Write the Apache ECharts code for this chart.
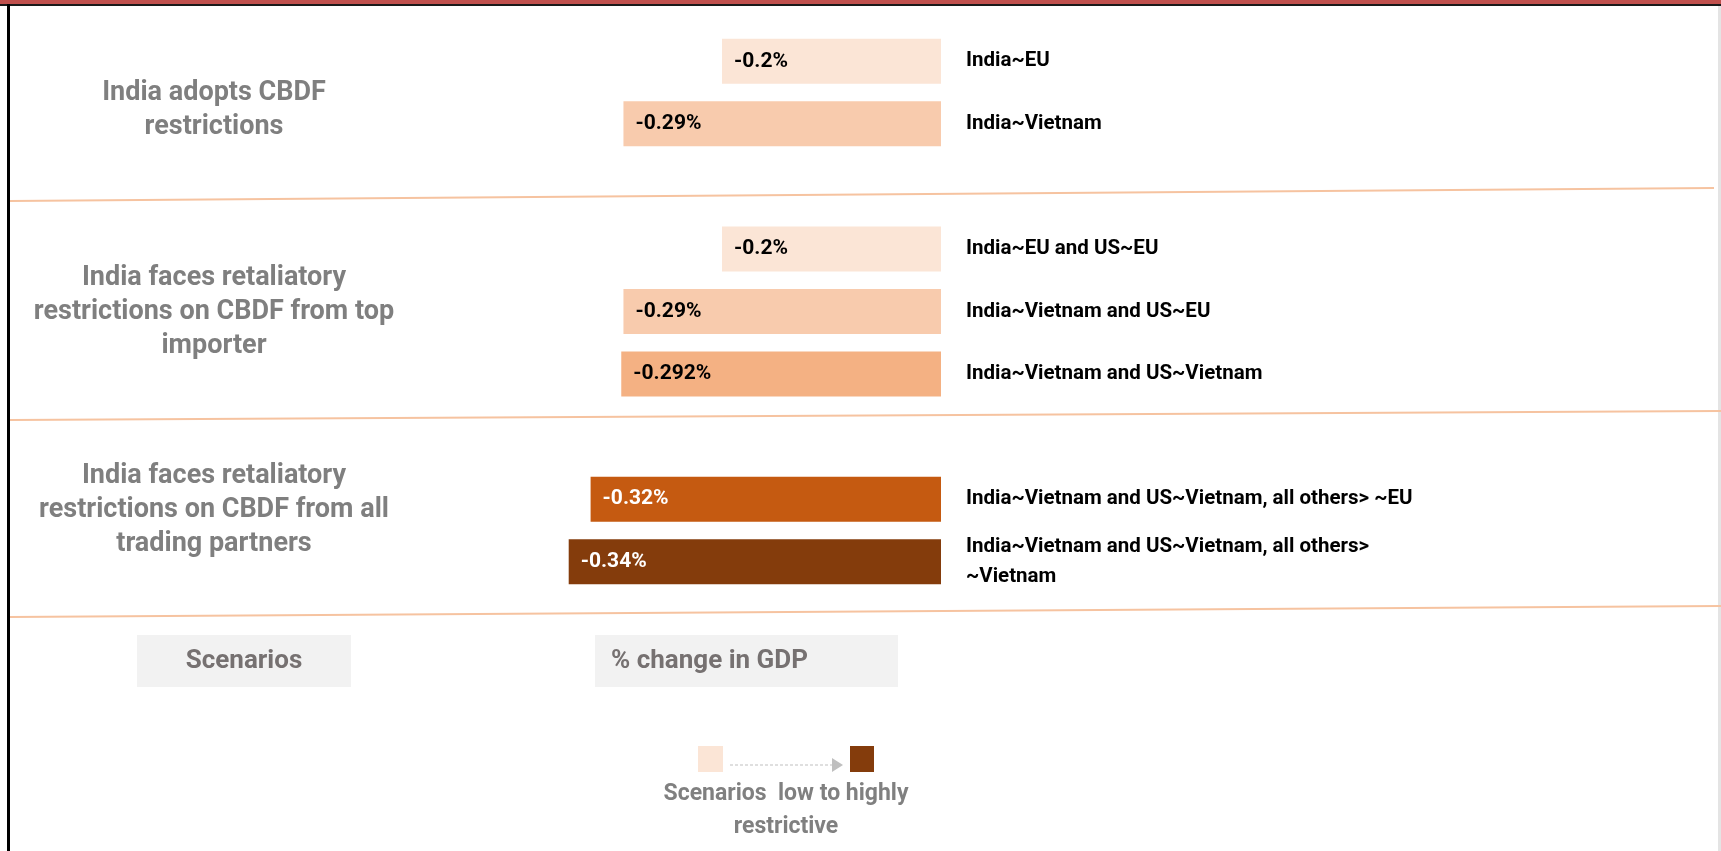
<!DOCTYPE html>
<html>
<head>
<meta charset="utf-8">
<title>CBDF restrictions - % change in GDP</title>
<script src="https://cdn.jsdelivr.net/npm/echarts@6/dist/echarts.min.js"></script>
<style>
  html, body { margin: 0; padding: 0; background: #fff; }
  #bar { width: 1721px; height: 851px; }
</style>
</head>
<body>
<div id="bar"></div>
<script>
// scenario labels shown right of each bar ('' = spacer row between groups)
var scenarios = [
  'India~EU',
  'India~Vietnam',
  '',
  'India~EU and US~EU',
  'India~Vietnam and US~EU',
  'India~Vietnam and US~Vietnam',
  '',
  'India~Vietnam and US~Vietnam, all others> ~EU',
  'India~Vietnam and US~Vietnam, all others>\n~Vietnam'
]
// % change in GDP
var gdpChange = [-0.2, -0.29, null, -0.2, -0.29, -0.292, null, -0.32, -0.34]
var shades = ['#fbe5d6', '#f8cbad', null, '#fbe5d6', '#f8cbad', '#f4b183', null, '#c55a11', '#843c0c']
var groupTitles = [
  'India adopts CBDF\nrestrictions',
  'India faces retaliatory\nrestrictions on CBDF from top\nimporter',
  'India faces retaliatory\nrestrictions on CBDF from all\ntrading partners'
]
var footerLabels = ['Scenarios', '% change in GDP']
var legendText = 'Scenarios  low to highly\nrestrictive'

var font = 'Roboto, "Liberation Sans", Arial, sans-serif'
var grey = '#7f7f7f'

function txt(text, x, y, size, color, align, lh) {
  return {
    type: 'text',
    style: {
      text: text, x: x, y: y,
      fill: color,
      fontSize: size, fontWeight: 'bold', fontFamily: font,
      align: align, textAlign: align,
      verticalAlign: 'middle', textVerticalAlign: 'middle',
      lineHeight: lh || size * 1.25
    }
  }
}

let myChart = echarts.init(document.getElementById('bar'))

let data = []
for (let i in gdpChange) {
  if (gdpChange[i] === null) {
    data.push(null)
    continue
  }
  let dark = i >= 7
  data.push({
    value: gdpChange[i],
    itemStyle: { color: shades[i] },
    label: { color: dark ? '#fff' : '#000' }
  })
}

let graphics = [
  // frame
  { type: 'rect', shape: { x: 0, y: 0, width: 1721, height: 4 }, style: { fill: '#c0504d' } },
  { type: 'rect', shape: { x: 0, y: 4, width: 1721, height: 2 }, style: { fill: '#1a1a1a' } },
  { type: 'rect', shape: { x: 7, y: 4, width: 3, height: 847 }, style: { fill: '#000' } },
  { type: 'rect', shape: { x: 1718, y: 6, width: 3, height: 845 }, style: { fill: '#e4e4e4' } },
  // separators between scenario groups
  { type: 'line', shape: { x1: 10, y1: 201, x2: 1714, y2: 188 }, style: { stroke: '#f6c3a0', lineWidth: 2 } },
  { type: 'line', shape: { x1: 10, y1: 420, x2: 1721, y2: 411 }, style: { stroke: '#f6c3a0', lineWidth: 2 } },
  { type: 'line', shape: { x1: 10, y1: 617, x2: 1721, y2: 606 }, style: { stroke: '#f6c3a0', lineWidth: 2 } },
  // footer boxes
  { type: 'rect', shape: { x: 137, y: 635, width: 214, height: 52 }, style: { fill: '#f2f2f2' } },
  { type: 'rect', shape: { x: 595, y: 635, width: 303, height: 52 }, style: { fill: '#f2f2f2' } },
  txt(footerLabels[0], 244, 661, 26, '#767171', 'center'),
  txt(footerLabels[1], 611, 661, 26, '#767171', 'left'),
  // legend: low -> high restrictive
  { type: 'rect', shape: { x: 698, y: 746, width: 25, height: 26 }, style: { fill: shades[0] } },
  { type: 'rect', shape: { x: 850, y: 746, width: 24, height: 26 }, style: { fill: shades[8] } },
  { type: 'line', shape: { x1: 730, y1: 765, x2: 834, y2: 765 }, style: { stroke: '#bfbfbf', lineWidth: 1.2, lineDash: [3, 2] } },
  { type: 'polygon', shape: { points: [[832, 758], [843, 765], [832, 772]] }, style: { fill: '#bfbfbf' } },
  txt(legendText, 786, 811, 23, '#808080', 'center', 33)
]

let titleY = [110, 312, 510]
for (let i in groupTitles) {
  graphics.push(txt(groupTitles[i], 214, titleY[i], 27, grey, 'center', 34))
}

option = {
  animation: false,
  backgroundColor: '#fff',
  grid: { left: 503, right: 780, top: 30, height: 563 },
  xAxis: {
    type: 'value',
    min: -0.4,
    max: 0,
    show: false
  },
  yAxis: {
    type: 'category',
    position: 'right',
    inverse: true,
    data: scenarios,
    axisLine: { show: false },
    axisTick: { show: false },
    splitLine: { show: false },
    axisLabel: {
      margin: 25,
      align: 'left',
      color: '#000',
      fontSize: 20.5,
      fontWeight: 'bold',
      fontFamily: font,
      lineHeight: 30
    }
  },
  series: [{
    type: 'bar',
    barWidth: 45,
    data: data,
    label: {
      show: true,
      position: 'insideLeft',
      distance: 12,
      fontSize: 21,
      fontWeight: 'bold',
      fontFamily: font,
      formatter: function (p) { return p.value + '%' }
    }
  }],
  graphic: graphics
}
myChart.setOption(option)
</script>
</body>
</html>
